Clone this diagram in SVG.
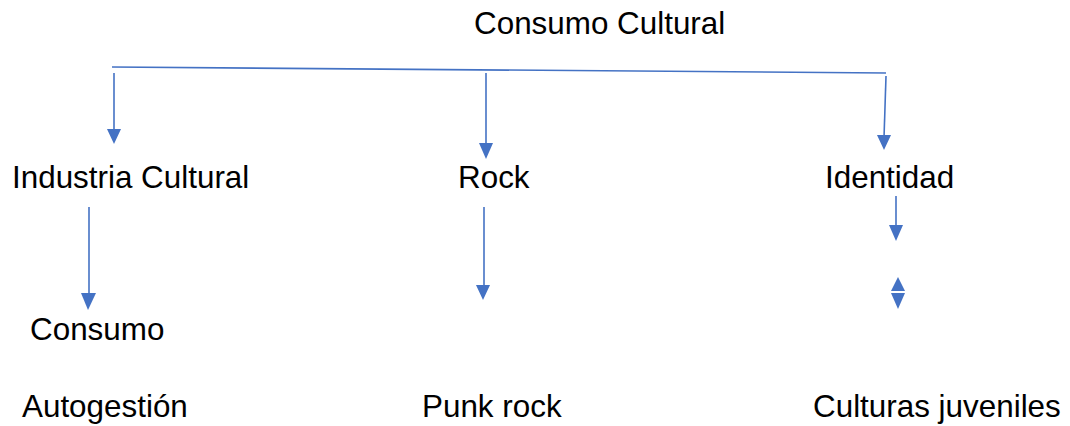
<svg xmlns="http://www.w3.org/2000/svg" width="1070" height="426" viewBox="0 0 1070 426">
<style>
text{font-family:"Liberation Sans",Arial,sans-serif;font-size:31.4px;fill:#000}
.ln{stroke:#4472C4;stroke-width:1.6;fill:none}
.hd{fill:#4472C4}
</style>
<rect width="1070" height="426" fill="#fff"/>
<g id="n-consumo-cultural"><text x="474" y="34">Consumo Cultural</text></g>
<g id="n-industria"><text x="12" y="188">Industria Cultural</text></g>
<g id="n-rock"><text x="458" y="188">Rock</text></g>
<g id="n-identidad"><text x="825" y="188">Identidad</text></g>
<g id="n-consumo"><text x="30" y="340">Consumo</text></g>
<g id="n-autogestion"><text x="22" y="417">Autogestión</text></g>
<g id="n-punk"><text x="422" y="417">Punk rock</text></g>
<g id="n-culturas"><text x="813" y="417">Culturas juveniles</text></g>
<g id="connectors">
<line class="ln" x1="112" y1="67" x2="886" y2="73"/>
<line class="ln" x1="114" y1="73" x2="114" y2="132"/>
<path class="hd" d="M107,129 L121,129 L114,144 Z"/>
<line class="ln" x1="486" y1="73" x2="486" y2="146"/>
<path class="hd" d="M479,143 L493,143 L486,159 Z"/>
<line class="ln" x1="886" y1="76" x2="884" y2="138"/>
<path class="hd" d="M877,135 L891,135 L884,150 Z"/>
<line class="ln" x1="89" y1="207" x2="89" y2="296"/>
<path class="hd" d="M81,293 L96,293 L88,310 Z"/>
<line class="ln" x1="484" y1="207" x2="484" y2="288"/>
<path class="hd" d="M476,285 L490,285 L483,300 Z"/>
<line class="ln" x1="896" y1="196" x2="896" y2="228"/>
<path class="hd" d="M889,225 L903,225 L896,241 Z"/>
<path class="hd" d="M898,277 L905,291 L891,291 Z"/>
<path class="hd" d="M891,293 L905,293 L898,309 Z"/>
</g>
</svg>
